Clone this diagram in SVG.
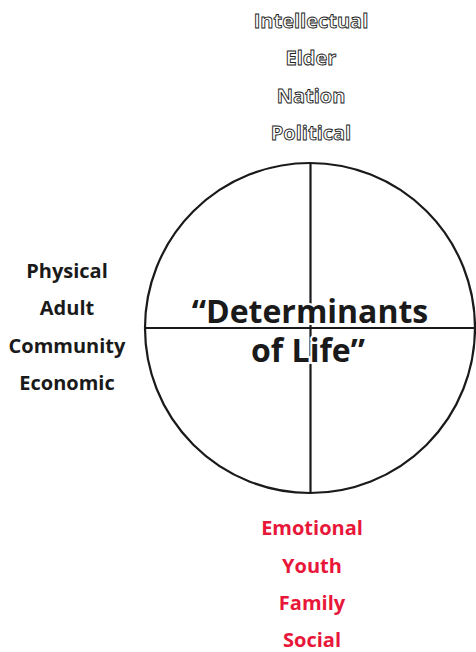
<svg xmlns="http://www.w3.org/2000/svg" width="476" height="652" viewBox="0 0 476 652">
<style>
.lbl{font-family:"Open Sans","Liberation Sans",sans-serif;font-weight:700;font-size:20px;text-anchor:middle}
.top{fill:#fff;stroke:#222;stroke-width:0.9px}
.left{fill:#1a1a1a}
.bot{fill:#e8173a}
.title{font-family:"Open Sans","Liberation Sans",sans-serif;font-weight:700;font-size:32px;text-anchor:middle;fill:#1a1a1a;stroke:#fff;stroke-width:4px;paint-order:stroke}
</style>
<rect width="476" height="652" fill="#fff"/>
<g id="wheel">
<circle cx="310" cy="328" r="165" fill="none" stroke="#1a1a1a" stroke-width="2.2"/>
<line x1="310.5" y1="163" x2="310.5" y2="493" stroke="#1a1a1a" stroke-width="2.2"/>
<line x1="145" y1="328" x2="475" y2="328" stroke="#1a1a1a" stroke-width="2.2"/>
</g>
<g id="title">
<text class="title" x="310" y="323">“Determinants</text>
<text class="title" x="308" y="362">of Life”</text>
</g>
<g id="top-labels">
<text class="lbl top" x="311" y="28">Intellectual</text>
<text class="lbl top" x="311" y="65">Elder</text>
<text class="lbl top" x="311" y="103">Nation</text>
<text class="lbl top" x="311" y="140">Political</text>
</g>
<g id="left-labels">
<text class="lbl left" x="67" y="278">Physical</text>
<text class="lbl left" x="67" y="315">Adult</text>
<text class="lbl left" x="67" y="353">Community</text>
<text class="lbl left" x="67" y="390">Economic</text>
</g>
<g id="bottom-labels">
<text class="lbl bot" x="312" y="535">Emotional</text>
<text class="lbl bot" x="312" y="573">Youth</text>
<text class="lbl bot" x="312" y="610">Family</text>
<text class="lbl bot" x="312" y="647">Social</text>
</g>
</svg>
